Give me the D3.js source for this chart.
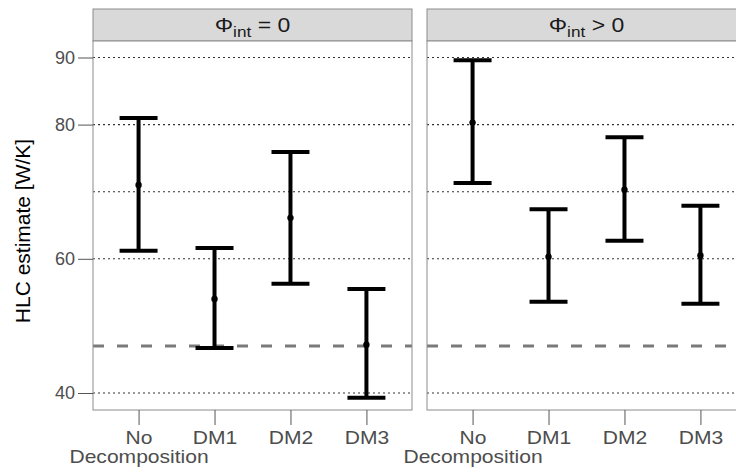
<!DOCTYPE html>
<html>
<head>
<meta charset="utf-8">
<script src="https://cdn.jsdelivr.net/npm/d3@7"></script>
<style>
  body { margin: 0; background: #fff; }
  text { font-family: "Liberation Sans", Arial, sans-serif; }
</style>
</head>
<body>
<div id="chart"></div>
<script>
// categories on the x axis
const methods = ['No', 'DM1', 'DM2', 'DM3'];
// facet labels
const facets = ['= 0', '> 0'];
// estimates per facet (point, lower, upper)
const estZero = [71.0, 54.0, 66.1, 47.2];
const lowZero = [61.2, 46.7, 56.3, 39.3];
const highZero = [81.0, 61.6, 75.9, 55.5];
const estPos = [80.3, 60.3, 70.3, 60.5];
const lowPos = [71.3, 53.6, 62.7, 53.3];
const highPos = [89.6, 67.4, 78.1, 67.9];
// y axis ticks and reference lines
const yTicks = [40, 60, 80, 90];
const gridLines = [40, 60, 70, 80, 90];
const refLine = 47;

const width = 736;
const height = 474;
const panelW = 319;
const panelTop = 41;
const panelBottom = 410;
const panelLeft = [93, 427];

const svg = d3.select('#chart')
  .append('svg')
  .attr('width', width)
  .attr('height', height);

const y = d3.scaleLinear()
  .domain([40, 90])
  .range([393, 57.5]);

const data = [
  methods.map((m, i) => ({ m, est: estZero[i], lo: lowZero[i], hi: highZero[i] })),
  methods.map((m, i) => ({ m, est: estPos[i], lo: lowPos[i], hi: highPos[i] }))
];

facets.forEach((f, k) => {
  const x0 = panelLeft[k];
  const x = d3.scalePoint()
    .domain(methods)
    .range([0, panelW])
    .padding(0.6);
  const capHalf = x.step() * 0.25;

  const g = svg.append('g').attr('transform', `translate(${x0},0)`);

  // strip
  g.append('rect')
    .attr('x', 0).attr('y', 9)
    .attr('width', panelW).attr('height', panelTop - 9)
    .attr('fill', '#d9d9d9')
    .attr('stroke', '#8c8c8c')
    .attr('stroke-width', 1);
  const st = g.append('text')
    .attr('transform', `translate(${panelW / 2},32) scale(1.15,1)`)
    .attr('text-anchor', 'middle')
    .attr('font-size', 20)
    .attr('fill', '#1a1a1a');
  st.append('tspan').text('Φ');
  st.append('tspan').attr('font-size', 15).attr('dy', 5).text('int');
  st.append('tspan').attr('dy', -5).text(' ' + f);

  // panel background
  g.append('rect')
    .attr('x', 0).attr('y', panelTop)
    .attr('width', panelW).attr('height', panelBottom - panelTop)
    .attr('fill', '#fff');

  // dotted grid lines
  g.selectAll('.grid')
    .data(gridLines)
    .enter()
    .append('line')
    .attr('x1', 0).attr('x2', panelW)
    .attr('y1', (d) => y(d)).attr('y2', (d) => y(d))
    .attr('stroke', '#333')
    .attr('stroke-width', 1.1)
    .attr('stroke-dasharray', '2,3');

  // reference line
  g.append('line')
    .attr('x1', 0).attr('x2', panelW)
    .attr('y1', y(refLine)).attr('y2', y(refLine))
    .attr('stroke', '#7a7a7a')
    .attr('stroke-width', 3)
    .attr('stroke-dasharray', '11,13');

  // error bars
  const bars = g.selectAll('.bar')
    .data(data[k])
    .enter()
    .append('g');
  bars.append('line')
    .attr('x1', (d) => x(d.m)).attr('x2', (d) => x(d.m))
    .attr('y1', (d) => y(d.lo)).attr('y2', (d) => y(d.hi))
    .attr('stroke', '#000').attr('stroke-width', 4);
  bars.append('line')
    .attr('x1', (d) => x(d.m) - capHalf).attr('x2', (d) => x(d.m) + capHalf)
    .attr('y1', (d) => y(d.hi)).attr('y2', (d) => y(d.hi))
    .attr('stroke', '#000').attr('stroke-width', 4);
  bars.append('line')
    .attr('x1', (d) => x(d.m) - capHalf).attr('x2', (d) => x(d.m) + capHalf)
    .attr('y1', (d) => y(d.lo)).attr('y2', (d) => y(d.lo))
    .attr('stroke', '#000').attr('stroke-width', 4);
  bars.append('circle')
    .attr('cx', (d) => x(d.m)).attr('cy', (d) => y(d.est))
    .attr('r', 3.2)
    .attr('fill', '#000');

  // panel border
  g.append('rect')
    .attr('x', 0).attr('y', panelTop)
    .attr('width', panelW).attr('height', panelBottom - panelTop)
    .attr('fill', 'none')
    .attr('stroke', '#8c8c8c')
    .attr('stroke-width', 1);

  // x axis
  const xAxis = g.append('g')
    .attr('transform', `translate(0,${panelBottom})`)
    .call(d3.axisBottom(x).tickSize(15).tickSizeOuter(0));
  xAxis.select('.domain').remove();
  xAxis.selectAll('.tick line').attr('stroke', '#555').attr('stroke-width', 1);
  xAxis.selectAll('.tick text')
    .attr('fill', '#4d4d4d')
    .attr('font-size', 18)
    .attr('y', 0)
    .attr('dy', null)
    .attr('transform', 'translate(0,34) scale(1.17,1)')
    .each(function (d) {
      const t = d3.select(this);
      if (d === 'No') {
        t.text(null);
        t.append('tspan').attr('x', 0).attr('dy', 0).text('No');
        t.append('tspan').attr('x', 0).attr('dy', 19.5).text('Decomposition');
      }
    });
});

// y axis
const yAxis = svg.append('g')
  .attr('transform', `translate(${panelLeft[0]},0)`)
  .call(d3.axisLeft(y).tickValues(yTicks).tickSize(15).tickSizeOuter(0));
yAxis.select('.domain').remove();
yAxis.selectAll('.tick line').attr('stroke', '#555').attr('stroke-width', 1);
yAxis.selectAll('.tick text')
  .attr('fill', '#4d4d4d')
  .attr('font-size', 18)
  .attr('x', -18);

// y axis title
svg.append('text')
  .attr('transform', 'translate(30,231) rotate(-90)')
  .attr('text-anchor', 'middle')
  .attr('font-size', 21)
  .attr('fill', '#000')
  .text('HLC estimate [W/K]');
</script>
</body>
</html>
